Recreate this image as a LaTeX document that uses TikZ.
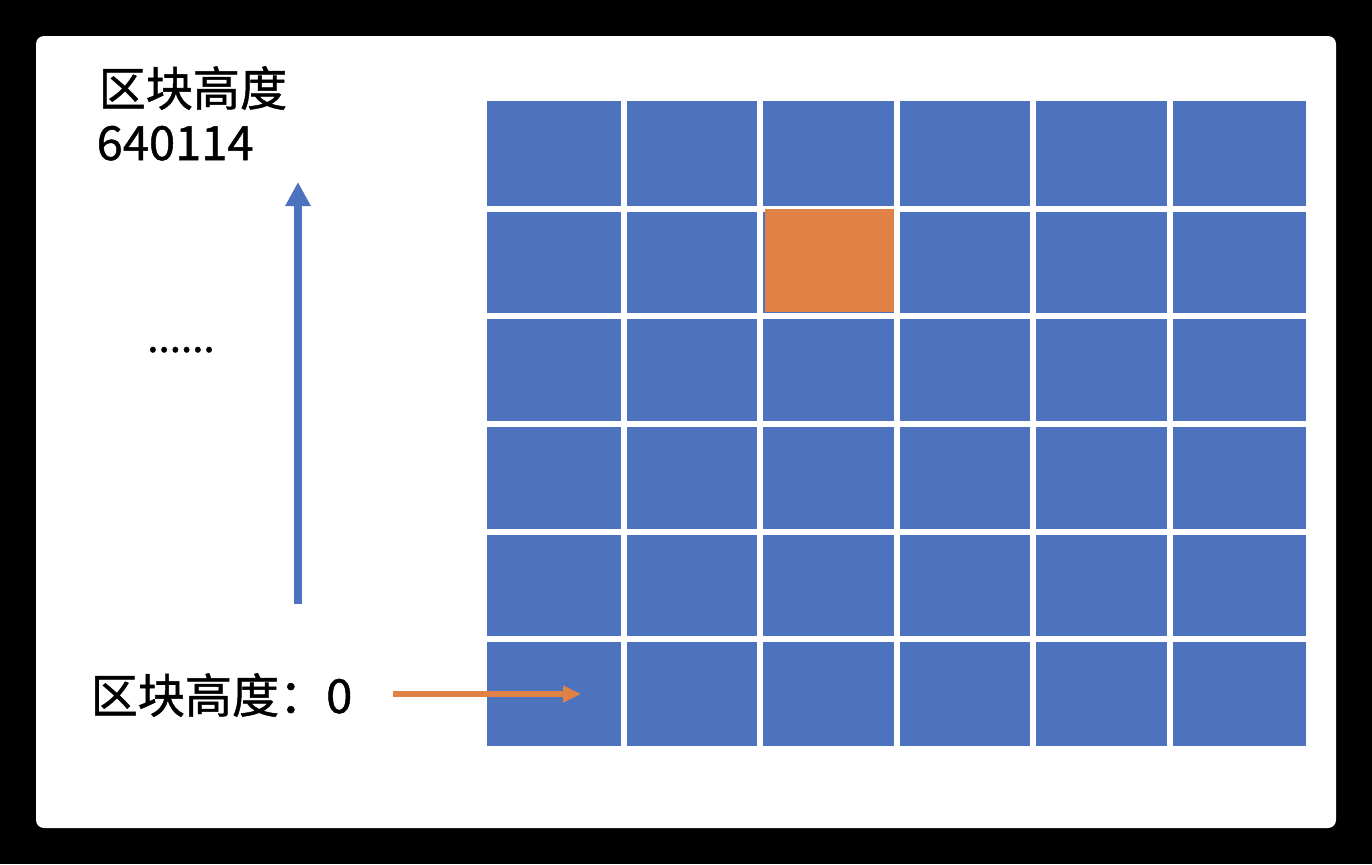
\documentclass[tikz,border=0pt]{standalone}
\usepackage{fontspec}
\newfontfamily\cjk[FakeBold=1]{Noto Sans CJK SC}
\usetikzlibrary{arrows.meta}
\definecolor{cellblue}{RGB}{78,115,190}
\definecolor{cellorange}{RGB}{224,130,70}
\tikzset{
  lbl/.style={font=\cjk\fontsize{13.4}{16}\selectfont,inner sep=0pt},
  gridline/.style={white,line width=0.6mm},
}
\begin{document}
\begin{tikzpicture}[x=0.1mm,y=-0.1mm]
\fill[black] (0,0) rectangle (1372,864);
\fill[white,rounded corners=0.8mm] (36,36) rectangle (1336,828);
% blocks, 6 x 6
\fill[cellblue] (487,101) rectangle (1306,746);
\foreach \x in {624,760,896.5,1033,1169.5} \draw[gridline] (\x,101) -- (\x,746);
\foreach \y in {208.5,316,424,531.5,639} \draw[gridline] (487,\y) -- (1306,\y);
\fill[cellorange] (765,209) rectangle (894,312);
% labels
\node[lbl,anchor=base west] (htop) at (98,106) {区块高度};
\node[lbl,anchor=base west] (hval) at (96,160) {640114};
\node[lbl,anchor=base] (dots) at (181,352) {\fontsize{11.5}{14}\selectfont......};
\node[lbl,anchor=base west] (hzero) at (90,713) {区块高度：0};
% arrows
\coordinate (up0) at (298,604);
\coordinate (up1) at (298,182);
\draw[-{Triangle[width=2.4mm,length=2.4mm]},cellblue,line width=0.8mm] (up0) -- (up1);
\coordinate (in0) at (393,694);
\coordinate (in1) at (581,694);
\draw[-{Triangle[width=1.6mm,length=1.8mm]},cellorange,line width=0.55mm] (in0) -- (in1);
\end{tikzpicture}
\end{document}
